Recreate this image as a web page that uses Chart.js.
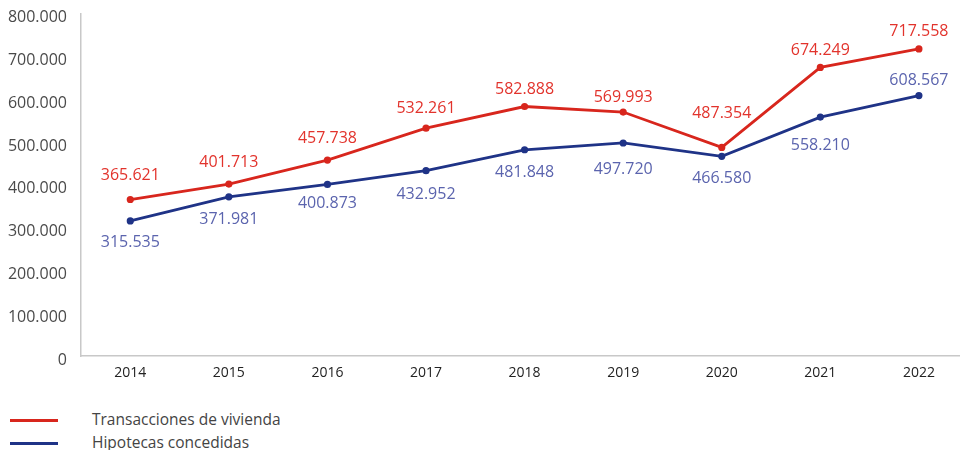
<!DOCTYPE HTML><html>
<head>
  <title>Transacciones e hipotecas</title>
  <meta charset="utf-8">
  <style>
  body {
    margin: 0;
    background: #fff;
    font-family: "Open Sans", Arial, sans-serif;
  }
  .wrap {
    position: relative;
    width: 960px;
    height: 450px;
    overflow: hidden;
  }
  canvas {
    position: absolute;
    left: 0;
    top: -10px;
  }
  .legend {
    position: absolute;
    left: 10px;
    top: 408px;
    font-size: 15.5px;
    color: #444;
  }
  .legend div {
    height: 23px;
    line-height: 23px;
    white-space: nowrap;
  }
  .legend span.swatch {
    display: inline-block;
    width: 48px;
    height: 3px;
    vertical-align: middle;
    margin-right: 34px;
  }
  </style>
  <script src="https://cdn.jsdelivr.net/npm/chart.js"></script>
</head>
<body>
<div class="wrap">
  <canvas id="chart" width="975" height="410"></canvas>
  <div class="legend">
    <div><span class="swatch" style="background:#d8261d"></span>Transacciones de vivienda</div>
    <div><span class="swatch" style="background:#1f3387"></span>Hipotecas concedidas</div>
  </div>
</div>
<script>
  var years = ['2014', '2015', '2016', '2017', '2018', '2019', '2020', '2021', '2022'];
  var transacciones = [365621, 401713, 457738, 532261, 582888, 569993, 487354, 674249, 717558];
  var hipotecas = [315535, 371981, 400873, 432952, 481848, 497720, 466580, 558210, 608567];
  var yTicks = [0, 100000, 200000, 300000, 400000, 500000, 600000, 700000, 800000];

  function fmt(v) {
    return String(v).replace(/\B(?=(\d{3})+(?!\d))/g, '.');
  }

  // vertical shift of each value label from its point (px)
  var labelShift = [
    [-24, -22, -22, -20, -17, -15, -34, -17, -17],
    [21, 23, 19, 24, 23, 26, 22, 28, -15]
  ];
  var labelColors = ['#e2332c', '#5b64ae'];

  var valueLabels = {
    id: 'valueLabels',
    afterDatasetsDraw: function(chart) {
      var ctx = chart.ctx;
      chart.data.datasets.forEach(function(ds, i) {
        var meta = chart.getDatasetMeta(i);
        ctx.save();
        ctx.font = '16px "Open Sans"';
        ctx.fillStyle = labelColors[i];
        ctx.textAlign = 'center';
        ctx.textBaseline = 'middle';
        meta.data.forEach(function(pt, j) {
          ctx.fillText(fmt(ds.data[j]), pt.x, pt.y + labelShift[i][j]);
        });
        ctx.restore();
      });
    }
  };

  new Chart(document.getElementById('chart'), {
    type: 'line',
    data: {
      labels: years,
      datasets: [{
        label: 'Transacciones de vivienda',
        data: transacciones,
        borderColor: '#d8261d',
        backgroundColor: '#d8261d',
        borderWidth: 2.8,
        pointRadius: 2.2,
        tension: 0
      }, {
        label: 'Hipotecas concedidas',
        data: hipotecas,
        borderColor: '#1f3387',
        backgroundColor: '#1f3387',
        borderWidth: 2.8,
        pointRadius: 2.2,
        tension: 0
      }]
    },
    options: {
      responsive: false,
      animation: false,
      layout: { padding: { top: 0, right: 0, left: 0, bottom: 0 } },
      plugins: {
        legend: { display: false },
        tooltip: { enabled: false }
      },
      scales: {
        x: {
          offset: true,
          grid: { display: false, drawTicks: false },
          border: { display: true, color: '#c8c8c8', width: 1.5 },
          ticks: {
            padding: 9,
            color: '#222',
            font: { family: '"Open Sans"', size: 14 }
          },
          afterFit: function(s) { s.height = 44; }
        },
        y: {
          min: 0,
          max: 800000,
          grid: { display: false, drawTicks: false },
          border: { display: true, color: '#c8c8c8', width: 1.5 },
          afterBuildTicks: function(s) {
            s.ticks = yTicks.map(function(v) { return { value: v }; });
          },
          ticks: {
            padding: 14,
            labelOffset: 4,
            color: '#4a4a4a',
            font: { family: '"Open Sans"', size: 16 },
            callback: function(v) { return fmt(v); }
          },
          afterFit: function(s) { s.width = 81; }
        }
      }
    },
    plugins: [valueLabels]
  });
</script>
</body>
</html>
